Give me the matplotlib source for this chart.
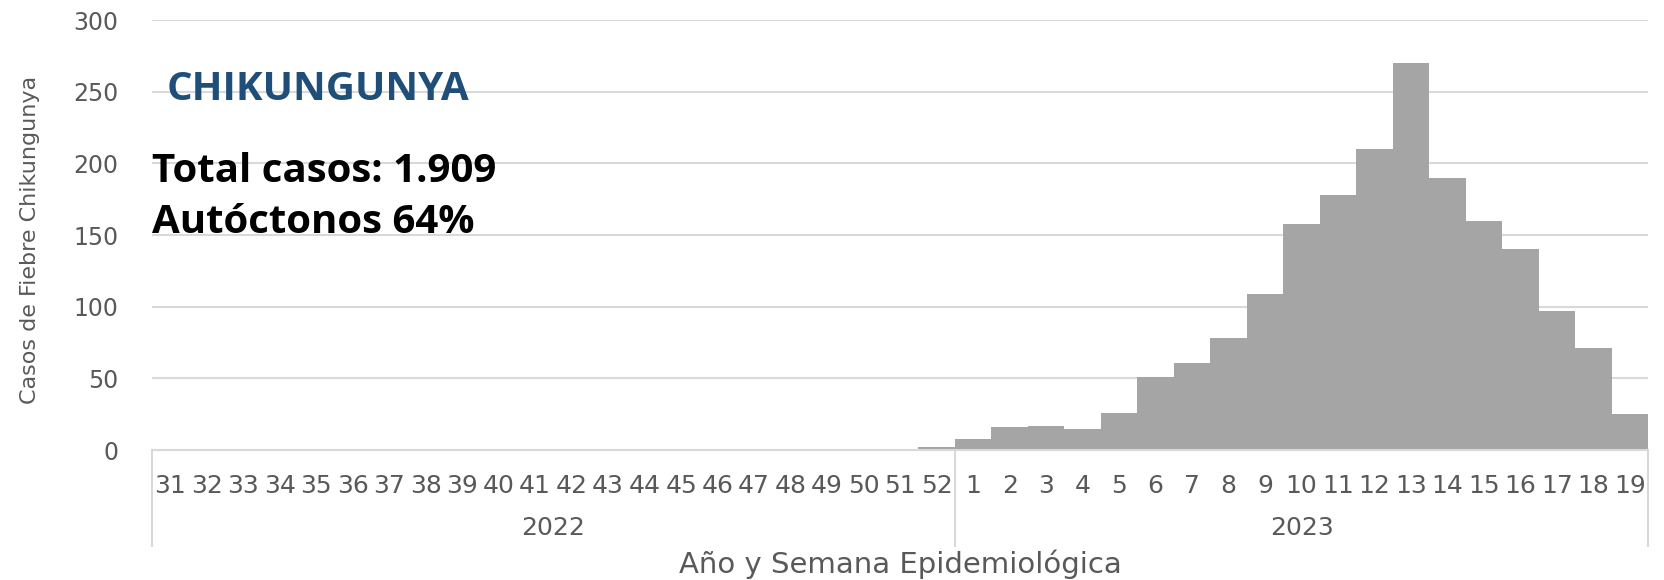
import matplotlib
matplotlib.use("Agg")
import matplotlib.pyplot as plt
import numpy as np

# --- DATOS ---
years = ["2022", "2023"]
weeks_2022 = ["31", "32", "33", "34", "35", "36", "37", "38", "39", "40", "41",
              "42", "43", "44", "45", "46", "47", "48", "49", "50", "51", "52"]
weeks_2023 = ["1", "2", "3", "4", "5", "6", "7", "8", "9", "10",
              "11", "12", "13", "14", "15", "16", "17", "18", "19"]
cases_2022 = [0, 0, 0, 0, 0, 0, 0, 0, 0, 0, 0,
              0, 0, 1, 0, 0, 0, 0, 1, 1, 0, 2]
cases_2023 = [8, 16, 17, 15, 26, 51, 61, 78, 109, 158,
              178, 210, 270, 190, 160, 140, 97, 71, 25]

title_text = "CHIKUNGUNYA"
total_text = "Total casos: 1.909"
auto_text = "Autóctonos 64%"

BAR = "#A5A5A5"
GRID = "#D9D9D9"
TXT = "#595959"

labels = weeks_2022 + weeks_2023
values = cases_2022 + cases_2023
x = np.arange(len(values))

fig = plt.figure(figsize=(16.64, 5.8), dpi=100)
ax = fig.add_axes([0.0913, 0.2241, 0.8993, 0.7414])

ax.bar(x, values, width=1.0, color=BAR, zorder=2)
ax.set_xlim(-0.5, len(values) - 0.5)
ax.set_ylim(0, 300)
ax.set_yticks(range(0, 301, 50))
ax.yaxis.grid(True, color=GRID, lw=1.5)
ax.set_axisbelow(True)

for s in ["top", "right", "left"]:
    ax.spines[s].set_visible(False)
ax.spines["bottom"].set_color(GRID)
ax.spines["bottom"].set_linewidth(1.5)

ax.set_xticks(x, labels)
ax.tick_params(axis="x", length=0, pad=17, labelsize=18, labelcolor=TXT)
ax.tick_params(axis="y", length=0, pad=24, labelsize=17, labelcolor=TXT)

# eje de categorias en dos niveles (semana / año)
trans = ax.get_xaxis_transform()
n22 = len(weeks_2022)
bounds = [-0.5, n22 - 0.5, len(values) - 0.5]
for b in bounds:
    ax.plot([b, b], [0, -0.223], transform=trans, color=GRID, lw=1.5, clip_on=False)
for i, yr in enumerate(years):
    c = (bounds[i] + bounds[i + 1]) / 2
    ax.text(c, -0.181, yr, transform=trans, ha="center", va="center",
            fontsize=18, color=TXT)

fig.text(30 / 1664, 0.586, "Casos de Fiebre Chikungunya", rotation=90,
         ha="center", va="center", fontsize=16, color=TXT)
fig.text(900 / 1664, 0.012, "Año y Semana Epidemiológica", ha="center",
         va="baseline", fontsize=21, color=TXT)

# --- TEXTOS ---
fig.text(167 / 1664, 0.8276, title_text, family="Open Sans", weight="bold",
         fontsize=29, color="#1F4E79", va="baseline")
fig.text(152 / 1664, 0.686, total_text, family="Open Sans", weight="bold",
         fontsize=29, color="black", va="baseline")
fig.text(152 / 1664, 0.598, auto_text, family="Open Sans", weight="bold",
         fontsize=29, color="black", va="baseline")

fig.savefig("out.png", dpi=100)
